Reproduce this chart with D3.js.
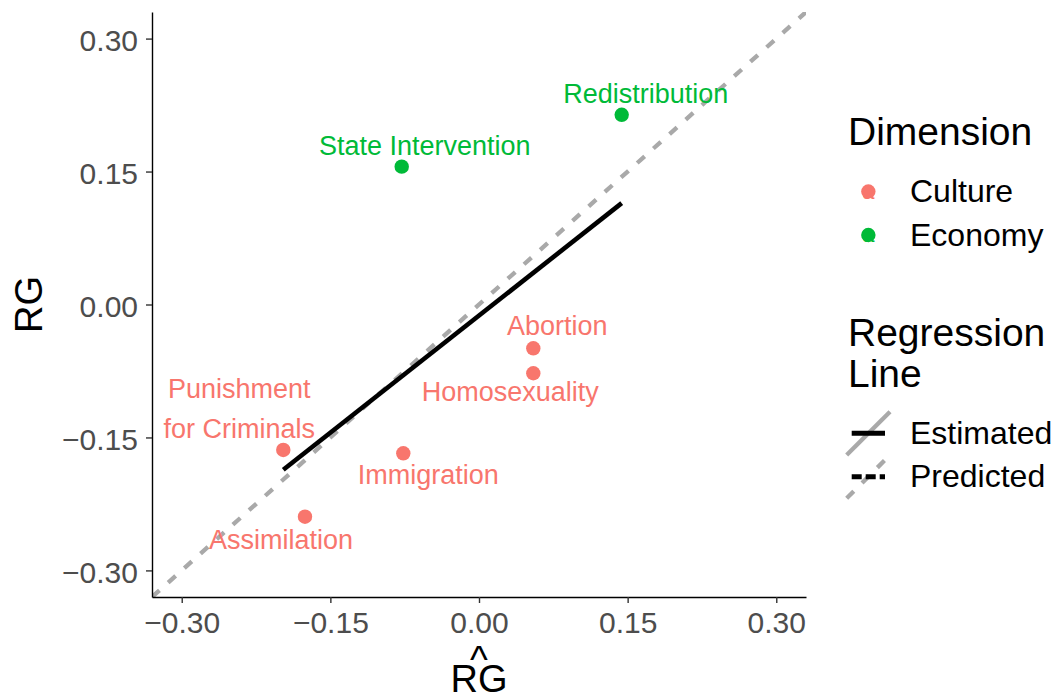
<!DOCTYPE html>
<html>
<head>
<meta charset="utf-8">
<script src="https://cdn.jsdelivr.net/npm/d3@7"></script>
<style>
  html, body { margin: 0; padding: 0; background: #fff; }
  svg { display: block; font-family: "Liberation Sans", Arial, Helvetica, sans-serif; }
</style>
</head>
<body>
<svg id="chart" width="1059" height="700"></svg>
<script>
// Issue positions: predicted (x) vs. observed (y) RG
const issues     = ["Redistribution", "State Intervention", "Abortion", "Homosexuality",
                    "Punishment\nfor Criminals", "Immigration", "Assimilation"];
const dimension  = ["Economy", "Economy", "Culture", "Culture", "Culture", "Culture", "Culture"];
const predicted  = [0.144, -0.078, 0.0548, 0.0548, -0.1975, -0.0764, -0.1756];
const observed   = [0.214, 0.1555, -0.0494, -0.0776, -0.1641, -0.1679, -0.2394];
const tickValues = [-0.30, -0.15, 0.00, 0.15, 0.30];
const dimensions = ["Culture", "Economy"];
const lineTypes  = ["Estimated", "Predicted"];

// Repelled label offsets (pixels from each point: centre x, first baseline y)
const labelOffset = [[24, -12], [23, -12], [24, -13], [-23, 28], [-44, -52], [25, 31], [-24, 32]];

const colour = d3.scaleOrdinal().domain(dimensions).range(["#F8766D", "#00BA38"]);

const svg = d3.select("#chart");
const panel = { left: 152, right: 806, top: 12, bottom: 597 };

const x = d3.scaleLinear().domain([-0.33, 0.33]).range([panel.left, panel.right]);
const y = d3.scaleLinear().domain([-0.33, 0.33]).range([panel.bottom, panel.top]);

const fmt = d3.format(".2f");
const GREY = "#A9A9A9";

// Clip for panel content
svg.append("defs").append("clipPath").attr("id", "panel-clip")
  .append("rect")
  .attr("x", panel.left).attr("y", panel.top)
  .attr("width", panel.right - panel.left).attr("height", panel.bottom - panel.top);

const plot = svg.append("g").attr("clip-path", "url(#panel-clip)");

// 45-degree reference line (predicted = observed)
const lims = x.domain();
plot.append("line")
  .attr("x1", x(lims[0])).attr("y1", y(lims[0]))
  .attr("x2", x(lims[1])).attr("y2", y(lims[1]))
  .attr("stroke", GREY).attr("stroke-width", 4.3)
  .attr("stroke-dasharray", "10,11.7");

// OLS fit of observed on predicted, drawn over the range of the data
const n = predicted.length;
const mx = d3.mean(predicted), my = d3.mean(observed);
let sxy = 0, sxx = 0;
for (let i = 0; i < n; i++) {
  sxy += (predicted[i] - mx) * (observed[i] - my);
  sxx += (predicted[i] - mx) ** 2;
}
const slope = sxy / sxx, intercept = my - slope * mx;
const [xmin, xmax] = d3.extent(predicted);
plot.append("line")
  .attr("x1", x(xmin)).attr("y1", y(intercept + slope * xmin))
  .attr("x2", x(xmax)).attr("y2", y(intercept + slope * xmax))
  .attr("stroke", "#000").attr("stroke-width", 4.6);

// Points
const rows = issues.map((d, i) => ({
  issue: d, dim: dimension[i], px: predicted[i], py: observed[i], off: labelOffset[i]
}));

plot.selectAll("circle.pt").data(rows).join("circle")
  .attr("class", "pt")
  .attr("cx", d => x(d.px)).attr("cy", d => y(d.py))
  .attr("r", 7.2)
  .attr("fill", d => colour(d.dim));

// Labels
const labels = svg.append("g").selectAll("text").data(rows).join("text")
  .attr("x", d => x(d.px) + d.off[0])
  .attr("y", d => y(d.py) + d.off[1])
  .attr("text-anchor", "middle")
  .attr("font-size", 27)
  .attr("fill", d => colour(d.dim));
labels.each(function(d) {
  const lines = d.issue.split("\n");
  const t = d3.select(this);
  lines.forEach((ln, j) => {
    t.append("tspan")
      .attr("x", x(d.px) + d.off[0])
      .attr("dy", j === 0 ? 0 : 40)
      .text(ln);
  });
});

// Axes
const xAxis = svg.append("g")
  .attr("transform", `translate(0,${panel.bottom})`)
  .call(d3.axisBottom(x).tickValues(tickValues).tickFormat(fmt).tickSize(6).tickSizeOuter(0).tickPadding(9));
const yAxis = svg.append("g")
  .attr("transform", `translate(${panel.left},0)`)
  .call(d3.axisLeft(y).tickValues(tickValues).tickFormat(fmt).tickSize(6).tickSizeOuter(0).tickPadding(8));

[xAxis, yAxis].forEach(a => {
  a.select(".domain").attr("stroke", "#000").attr("stroke-width", 1.4);
  a.selectAll(".tick line").attr("stroke", "#333").attr("stroke-width", 1.4);
  a.selectAll(".tick text")
    .attr("fill", "#4D4D4D")
    .attr("font-size", 30)
    .attr("font-family", "'Liberation Sans', Arial, Helvetica, sans-serif");
});
yAxis.selectAll(".tick text").attr("dy", "0.4em");

// Axis titles: x title is RG with a hat
const xMid = (panel.left + panel.right) / 2;
const xTitle = svg.append("text")
  .attr("text-anchor", "middle").attr("font-size", 38).attr("fill", "#000");
xTitle.append("tspan").attr("x", xMid).attr("y", 673).text("^");
xTitle.append("tspan").attr("x", xMid).attr("y", 692).text("RG");

svg.append("text")
  .attr("transform", `translate(42,${(panel.top + panel.bottom) / 2}) rotate(-90)`)
  .attr("text-anchor", "middle").attr("font-size", 38).attr("fill", "#000")
  .text("RG");

// Legend: Dimension
const legX = 848;
const keyL = 846.7, keyW = 43.3;
svg.append("text").attr("x", legX).attr("y", 145)
  .attr("font-size", 39).attr("fill", "#000").text("Dimension");

const dimKeyY = [191.5, 235];
dimensions.forEach((dname, i) => {
  const g = svg.append("g");
  g.append("text")
    .attr("x", keyL + keyW / 2).attr("y", dimKeyY[i] + 7)
    .attr("text-anchor", "middle").attr("font-size", 22)
    .attr("fill", colour(dname)).text("a");
  g.append("circle")
    .attr("cx", keyL + keyW / 2).attr("cy", dimKeyY[i])
    .attr("r", 7.2).attr("fill", colour(dname));
  g.append("text").attr("x", 910).attr("y", dimKeyY[i] + 10.5)
    .attr("font-size", 32).attr("fill", "#000").text(dname);
});

// Legend: Regression Line
svg.append("text").attr("x", legX).attr("y", 346)
  .attr("font-size", 39).attr("fill", "#000")
  .selectAll("tspan").data(["Regression", "Line"]).join("tspan")
  .attr("x", legX).attr("dy", (d, i) => i === 0 ? 0 : 41).text(d => d);

const lineKeyTop = [411.7, 455];
lineTypes.forEach((lt, i) => {
  const top = lineKeyTop[i], bot = top + keyW, mid = top + keyW / 2;
  const dash = lt === "Predicted";
  svg.append("line")
    .attr("x1", keyL).attr("y1", bot).attr("x2", keyL + keyW).attr("y2", top)
    .attr("stroke", GREY).attr("stroke-width", 4.3)
    .attr("stroke-dasharray", dash ? "10,11.7" : null);
  svg.append("line")
    .attr("x1", keyL + 5).attr("y1", mid).attr("x2", keyL + keyW - 5).attr("y2", mid)
    .attr("stroke", "#000").attr("stroke-width", 5)
    .attr("stroke-dasharray", dash ? "10,4" : null);
  svg.append("text").attr("x", 910).attr("y", mid + 10.5)
    .attr("font-size", 32).attr("fill", "#000").text(lt);
});
</script>
</body>
</html>
